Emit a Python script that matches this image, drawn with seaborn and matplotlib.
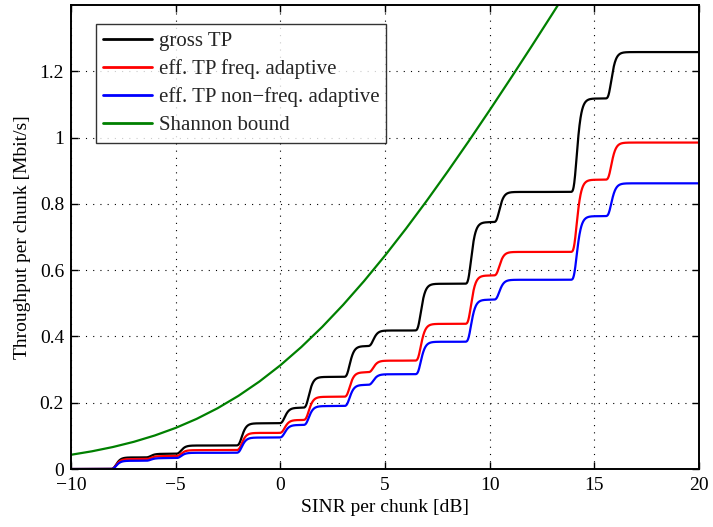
import numpy as np
import pandas as pd
import matplotlib
matplotlib.use("Agg")
import matplotlib.pyplot as plt
from matplotlib.ticker import FuncFormatter
import seaborn as sns

# SINR thresholds (dB) at which each modulation/coding step switches in
step_sinr_db = [-7.85, -6.2, -4.75, -1.85, 0.2, 1.35, 3.3, 4.43, 6.7, 9.1, 10.45, 14.15, 15.8]

# throughput plateaus [Mbit/s] between the thresholds (first entry: below the first one)
gross_tp = [0, 0.035, 0.046, 0.071, 0.138, 0.185, 0.278, 0.371, 0.418, 0.559, 0.745, 0.836, 1.118, 1.258]
eff_tp_freq = [0, 0.030, 0.039, 0.057, 0.109, 0.148, 0.218, 0.292, 0.327, 0.438, 0.584, 0.655, 0.873, 0.985]
eff_tp_nonfreq = [0, 0.025, 0.033, 0.049, 0.095, 0.133, 0.190, 0.254, 0.286, 0.384, 0.511, 0.571, 0.763, 0.862]

# Shannon bound per chunk, tabulated per dB
shannon_sinr_db = list(range(-10, 15))
shannon_tp = [0.043, 0.0535, 0.0664, 0.0821, 0.1012, 0.1241, 0.1513, 0.1834, 0.2209, 0.2640,
              0.313, 0.368, 0.4288, 0.4954, 0.5672, 0.644, 0.7251, 0.810, 0.8983, 0.9893,
              1.0828, 1.1783, 1.2753, 1.3738, 1.4733]

series_names = ["gross TP", "eff. TP freq. adaptive", "eff. TP non\u2212freq. adaptive", "Shannon bound"]
series_colors = ["#000000", "#ff0000", "#0000ff", "#008000"]

sinr = np.linspace(-10, 20, 3001)


def staircase(levels, thresholds, width=0.13):
    """Plateaus joined by smooth (block-error-rate shaped) transitions."""
    y = np.full_like(sinr, levels[0], dtype=float)
    for k, t in enumerate(thresholds):
        z = (sinr - t) / width
        y += (levels[k + 1] - levels[k]) * np.exp(-np.exp(-z))
    return y


frames = []
for name, lv in zip(series_names[:3], [gross_tp, eff_tp_freq, eff_tp_nonfreq]):
    frames.append(pd.DataFrame({"sinr": sinr, "tp": staircase(lv, step_sinr_db), "series": name}))
frames.append(pd.DataFrame({"sinr": shannon_sinr_db, "tp": shannon_tp, "series": series_names[3]}))
df = pd.concat(frames, ignore_index=True)

sns.set_theme(style="white")
plt.rcParams["font.family"] = ["Liberation Serif", "DejaVu Serif"]
plt.rcParams["axes.unicode_minus"] = True

fig = plt.figure(figsize=(7.13, 5.27), dpi=100)
ax = fig.add_axes([0.0996, 0.110, 0.8808, 0.8805])

sns.lineplot(data=df, x="sinr", y="tp", hue="series", hue_order=series_names,
             palette=series_colors, linewidth=1.6, ax=ax, sort=False, estimator=None)

ax.set_xlim(-10, 20)
ax.set_ylim(0, 1.4)
ax.set_xticks([-10, -5, 0, 5, 10, 15, 20])
ax.set_yticks([0, 0.2, 0.4, 0.6, 0.8, 1.0, 1.2])
ax.yaxis.set_major_formatter(FuncFormatter(lambda v, p: f"{v:g}"))
ax.xaxis.set_major_formatter(FuncFormatter(lambda v, p: f"{v:g}".replace("-", "\u2212")))

ax.grid(True, color="black", linestyle=(0, (1, 5.5)), linewidth=0.8)
ax.set_axisbelow(True)
for s in ax.spines.values():
    s.set_color("black")
    s.set_linewidth(1.4)
ax.tick_params(direction="in", length=5, width=1.0, colors="black", labelsize=14,
               top=True, right=True, bottom=True, left=True)
ax.tick_params(axis="x", pad=6)
ax.tick_params(axis="y", pad=5)

ax.set_xlabel("SINR per chunk [dB]", fontsize=14, color="black", labelpad=3)
ax.set_ylabel("Throughput per chunk [Mbit/s]", fontsize=14, color="black", labelpad=6)

handles, labels = ax.get_legend_handles_labels()
leg = ax.legend(handles, labels, loc="upper left", bbox_to_anchor=(0.0398, 0.959),
                borderaxespad=0, fontsize=15, frameon=True, fancybox=False, edgecolor="black",
                handlelength=2.35, handletextpad=0.3, borderpad=0.35, labelspacing=0.4)
leg.get_frame().set_linewidth(1.0)
for line in leg.get_lines():
    line.set_linewidth(2.0)

fig.savefig("out.png", dpi=100)
